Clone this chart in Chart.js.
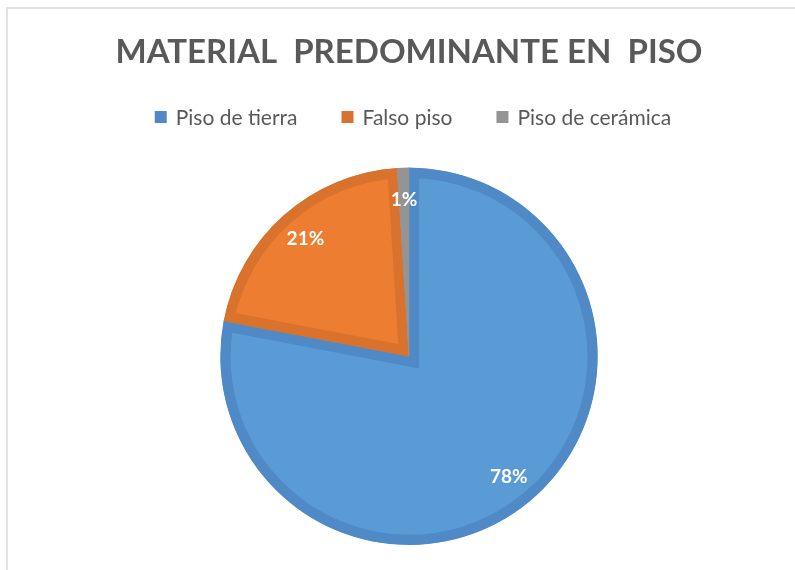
<!DOCTYPE html>
<html>
<head>
<meta charset="utf-8">
<script src="https://cdn.jsdelivr.net/npm/chart.js@4/dist/chart.umd.min.js"></script>
<style>
  html, body { margin: 0; padding: 0; background: #fff; overflow: hidden; }
  #wrap { width: 795px; height: 570px; }
</style>
</head>
<body>
<div id="wrap"><canvas id="pisoChart" width="795" height="570"></canvas></div>
<script>
const categories = ["Piso de tierra", "Falso piso", "Piso de cerámica"];
const percentages = [78, 21, 1];
const fillColors = ["#5b9bd5", "#ed7d31", "#a5a5a5"];
const borderColors = ["#4f8ac7", "#d9722c", "#949494"];

// marco gris del gráfico (arriba e izquierda)
const frame = {
  id: "frame",
  beforeDraw(chart) {
    const ctx = chart.ctx;
    ctx.save();
    ctx.strokeStyle = "#d9d9d9";
    ctx.lineWidth = 1.5;
    ctx.beginPath();
    ctx.moveTo(7, chart.height);
    ctx.lineTo(7, 8);
    ctx.lineTo(chart.width, 8);
    ctx.stroke();
    ctx.restore();
  },
};

// leyenda dibujada a mano (separación amplia entre elementos)
const topLegend = {
  id: "topLegend",
  afterDraw(chart) {
    const ctx = chart.ctx;
    ctx.save();
    ctx.font = "21px Lato";
    ctx.textBaseline = "middle";
    const box = 12, gap = 9, spacing = 44;
    const widths = categories.map((c) => ctx.measureText(c).width);
    const total = widths.reduce((a, w) => a + box + gap + w, 0) + spacing * (categories.length - 1);
    let x = 413 - total / 2;
    const y = 117;
    categories.forEach((c, i) => {
      ctx.fillStyle = borderColors[i];
      ctx.fillRect(x, y - box / 2, box, box);
      ctx.fillStyle = "#595959";
      ctx.fillText(c, x + box + gap, y + 1);
      x += box + gap + widths[i] + spacing;
    });
    ctx.restore();
  },
};

// etiquetas de porcentaje dentro de cada sector
const sliceLabels = {
  id: "sliceLabels",
  afterDatasetsDraw(chart) {
    const ctx = chart.ctx;
    const meta = chart.getDatasetMeta(0);
    ctx.save();
    ctx.font = "bold 19px Lato";
    ctx.fillStyle = "#ffffff";
    ctx.textAlign = "center";
    ctx.textBaseline = "middle";
    meta.data.forEach((arc, i) => {
      const p = arc.getProps(["x", "y", "startAngle", "endAngle", "outerRadius"], true);
      const mid = (p.startAngle + p.endAngle) / 2;
      const r = p.outerRadius * 0.83;
      ctx.fillText(percentages[i] + "%", p.x + Math.cos(mid) * r, p.y + Math.sin(mid) * r);
    });
    ctx.restore();
  },
};

const ctx = document.getElementById("pisoChart").getContext("2d");
new Chart(ctx, {
  type: "pie",
  data: {
    labels: categories,
    datasets: [
      {
        data: percentages,
        backgroundColor: fillColors,
        borderColor: borderColors,
        borderWidth: 10,
        borderAlign: "inner",
        borderJoinStyle: "miter",
      },
    ],
  },
  options: {
    responsive: false,
    animation: false,
    layout: { padding: { left: 23, right: 0, top: 0, bottom: 25 } },
    plugins: {
      title: {
        display: true,
        text: "MATERIAL  PREDOMINANTE EN  PISO",
        color: "#595959",
        font: { family: "Lato", size: 33, weight: "bold" },
        padding: { top: 33, bottom: 95 },
      },
      legend: { display: false },
      tooltip: { enabled: false },
    },
  },
  plugins: [frame, topLegend, sliceLabels],
});
</script>
</body>
</html>
